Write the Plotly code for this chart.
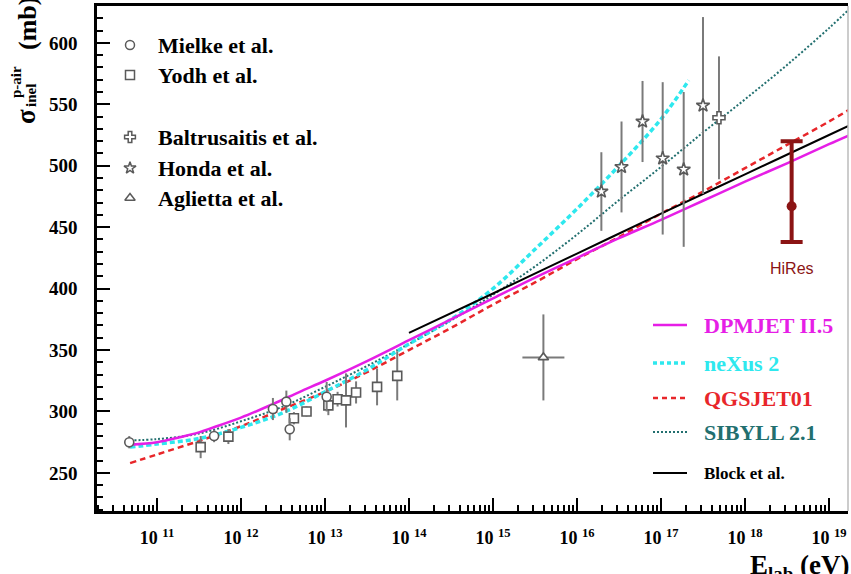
import plotly.graph_objects as go

# ---------------- data (log10 E_lab [eV], sigma_inel p-air [mb]) ----------------
mielke_logE = [10.67, 11.68, 12.38, 12.54, 12.58, 13.02]
mielke_sigma = [275, 280, 302, 308, 285.5, 312]
mielke_err = [5, 5, 9, 9, 9, 12]

yodh_logE = [11.52, 11.85, 12.63, 12.78, 13.04, 13.15, 13.25, 13.37, 13.62, 13.86]
yodh_sigma = [271, 279.5, 294.5, 300, 305, 310, 309, 315.5, 320, 329]
yodh_err = [9, 6, 5, 4, 8, 6, 22, 9, 15, 20]

balt_logE = [17.69]
balt_sigma = [539]
balt_err = [50]

honda_logE = [16.29, 16.53, 16.78, 17.02, 17.27, 17.50]
honda_sigma = [479, 499, 536, 506, 497, 549]
honda_err = [32, 37, 33, 62, 63, 72]

aglietta_logE = [15.6]
aglietta_sigma = [344]
aglietta_err = [35]
aglietta_logE_err = [0.25]

hires_logE = [18.555]
hires_sigma = [467]
hires_err_plus = [53]
hires_err_minus = [29]

dpmjet_logE = [10.68, 11.0, 11.27, 11.5, 11.67, 12.0, 12.38, 12.7, 13.0, 13.5, 14.0, 14.5,
               15.0, 15.5, 16.0, 16.5, 17.0, 17.5, 18.0, 18.5, 19.0, 19.25]
dpmjet_sigma = [273, 275, 279, 283, 287, 295, 306, 316, 325, 341, 358, 375,
                392, 409, 425, 441, 456, 471.5, 487, 502, 517.5, 525]

nexus_logE = [10.68, 11.0, 11.5, 12.0, 12.5, 13.0, 13.5, 14.0, 14.5, 15.0, 15.5, 16.0, 16.5, 17.0, 17.33]
nexus_sigma = [271, 273.5, 278, 287, 299, 316, 334, 355, 375, 400, 432, 465, 500, 538, 569.5]

qgsjet_logE = [10.68, 11.0, 11.5, 12.0, 12.5, 13.0, 13.5, 14.0, 14.5, 15.0, 15.5, 16.0,
               16.5, 17.0, 17.5, 18.0, 18.5, 19.0, 19.25]
qgsjet_sigma = [258, 265, 276, 288, 302, 316, 332, 350, 368, 387, 405, 424,
                442, 461, 479, 498, 517, 536, 546]

sibyll_logE = [10.68, 11.0, 11.5, 12.0, 12.5, 13.0, 13.5, 14.0, 14.5, 15.0, 15.5, 16.0,
               16.5, 17.0, 17.5, 18.0, 18.5, 19.0, 19.25]
sibyll_sigma = [276.5, 277.5, 282, 292, 304, 320, 337, 355, 374, 395, 418, 444,
                472, 499, 527, 554, 582, 612, 628]

block_logE = [14.0, 15.0, 16.0, 17.0, 18.0, 19.0, 19.25]
block_sigma = [364, 396, 428.5, 461, 493, 525, 533]

x_decades = [11, 12, 13, 14, 15, 16, 17, 18, 19]
x_ticktext = ["10 <sup>%d</sup>" % d for d in x_decades]
y_tickvals = [250, 300, 350, 400, 450, 500, 550, 600]

# ---------------- styling ----------------
W, H = 851, 574
L, R, T, B = 97, 3, 6, 63
SERIF = "Liberation Serif"
GRAY = "#5a5a5a"
EGRAY = "#7a7a7a"
MAG = "#e61ee6"
CYAN = "#2ee8ee"
RED = "#e8262a"
TEAL = "#226f6f"
DRED = "#8b1414"


def lin(v):
    return [10.0 ** a for a in v]


def px2x(px):
    return (px - L) / (W - L - R)


def py2y(py):
    return (H - B - py) / (H - B - T)


fig = go.Figure()

# model curves
fig.add_trace(go.Scatter(x=lin(sibyll_logE), y=sibyll_sigma, mode="lines",
                         line=dict(color=TEAL, width=2, dash="2px,2px", shape="spline"),
                         showlegend=False))
fig.add_trace(go.Scatter(x=lin(qgsjet_logE), y=qgsjet_sigma, mode="lines",
                         line=dict(color=RED, width=2.5, dash="6px,4px", shape="spline"),
                         showlegend=False))
fig.add_trace(go.Scatter(x=lin(nexus_logE), y=nexus_sigma, mode="lines",
                         line=dict(color=CYAN, width=3.5, dash="5px,3px", shape="spline"),
                         showlegend=False))
fig.add_trace(go.Scatter(x=lin(dpmjet_logE), y=dpmjet_sigma, mode="lines",
                         line=dict(color=MAG, width=2.5, shape="spline"),
                         showlegend=False))
fig.add_trace(go.Scatter(x=lin(block_logE), y=block_sigma, mode="lines",
                         line=dict(color="black", width=2, shape="spline"),
                         showlegend=False))


def pts(logE, sig, err, symbol, size=9, xerr=None):
    kw = {}
    if xerr is not None:
        kw["error_x"] = dict(type="data", symmetric=False,
                             array=[10.0 ** (a + e) - 10.0 ** a for a, e in zip(logE, xerr)],
                             arrayminus=[10.0 ** a - 10.0 ** (a - e) for a, e in zip(logE, xerr)],
                             color=EGRAY, thickness=2, width=0)
    fig.add_trace(go.Scatter(
        x=lin(logE), y=sig, mode="markers",
        marker=dict(symbol=symbol, size=size, color="white",
                    line=dict(color=GRAY, width=1.6)),
        error_y=dict(type="data", array=err, color=EGRAY, thickness=2, width=0),
        showlegend=False, **kw))


pts(yodh_logE, yodh_sigma, yodh_err, "square")
pts(mielke_logE, mielke_sigma, mielke_err, "circle")
pts(balt_logE, balt_sigma, balt_err, "cross", 10)
pts(honda_logE, honda_sigma, honda_err, "star", 10)
pts(aglietta_logE, aglietta_sigma, aglietta_err, "triangle-up", 9, aglietta_logE_err)

fig.add_trace(go.Scatter(
    x=lin(hires_logE), y=hires_sigma, mode="markers",
    marker=dict(symbol="circle", size=10, color=DRED),
    error_y=dict(type="data", symmetric=False, array=hires_err_plus,
                 arrayminus=hires_err_minus, color=DRED, thickness=4, width=11),
    showlegend=False))

# ---------------- legends drawn on a pixel overlay axis ----------------
leg_left_rows = [("Mielke et al.", "circle", 45),
                 ("Yodh et al.", "square", 75),
                 ("Baltrusaitis et al.", "cross", 137),
                 ("Honda et al.", "star", 168),
                 ("Aglietta et al.", "triangle-up", 198)]
for name, sym, yy in leg_left_rows:
    fig.add_trace(go.Scatter(x=[130], y=[yy], xaxis="x2", yaxis="y2", mode="markers",
                             marker=dict(symbol=sym, size=9, color="white",
                                         line=dict(color=GRAY, width=1.5)),
                             showlegend=False, cliponaxis=False))
    fig.add_annotation(x=156, y=yy, xref="x2", yref="y2", text=name, showarrow=False,
                       xanchor="left", yanchor="middle",
                       font=dict(family=SERIF, size=22, color="black", weight="bold"))

leg_right_rows = [("DPMJET II.5", MAG, dict(color=MAG, width=2.5), 325, 22),
                  ("neXus 2", CYAN, dict(color=CYAN, width=3.5, dash="4px,3px"), 363, 22),
                  ("QGSJET01", RED, dict(color=RED, width=2.5, dash="5px,4px"), 398, 22),
                  ("SIBYLL 2.1", TEAL, dict(color=TEAL, width=2, dash="2px,2px"), 432, 22),
                  ("Block et al.", "black", dict(color="black", width=2), 473, 17)]
for name, col, ln, yy, fs in leg_right_rows:
    fig.add_trace(go.Scatter(x=[653, 687], y=[yy, yy], xaxis="x2", yaxis="y2", mode="lines",
                             line=ln, showlegend=False, cliponaxis=False))
    fig.add_annotation(x=702, y=yy, xref="x2", yref="y2", text=name, showarrow=False,
                       xanchor="left", yanchor="middle",
                       font=dict(family=SERIF, size=fs, color=col, weight="bold"))

fig.add_annotation(x=792, y=268, xref="x2", yref="y2", text="HiRes", showarrow=False,
                   xanchor="center", yanchor="middle",
                   font=dict(family="Liberation Sans", size=16, color=DRED))

# ---------------- axis titles ----------------
fig.add_annotation(x=px2x(851), y=py2y(548), xref="paper", yref="paper",
                   text="E<sub>lab</sub> (eV)", showarrow=False, xanchor="right", yanchor="top",
                   font=dict(family=SERIF, size=27, color="black", weight="bold"))
# y title pieces (rotated)
fig.add_annotation(x=px2x(26), y=py2y(117), xref="paper", yref="paper", text="σ",
                   textangle=-90, showarrow=False, xanchor="center", yanchor="middle",
                   font=dict(family=SERIF, size=27, color="black", weight="bold"))
fig.add_annotation(x=px2x(16), y=py2y(82), xref="paper", yref="paper", text="p-air",
                   textangle=-90, showarrow=False, xanchor="center", yanchor="middle",
                   font=dict(family=SERIF, size=15, color="black", weight="bold"))
fig.add_annotation(x=px2x(31), y=py2y(96), xref="paper", yref="paper", text="inel",
                   textangle=-90, showarrow=False, xanchor="center", yanchor="middle",
                   font=dict(family=SERIF, size=15, color="black", weight="bold"))
fig.add_annotation(x=px2x(27), y=py2y(24), xref="paper", yref="paper", text="(mb)",
                   textangle=-90, showarrow=False, xanchor="center", yanchor="middle",
                   font=dict(family=SERIF, size=26, color="black", weight="bold"))

# right frame (faint)
fig.add_shape(type="line", xref="paper", yref="paper", x0=1, x1=1, y0=0, y1=1,
              line=dict(color="#bbbbbb", width=1.5))

minor_x = [k * 10.0 ** d for d in range(10, 20) for k in range(2, 10)]

fig.update_layout(
    width=W, height=H,
    margin=dict(l=L, r=R, t=T, b=B, autoexpand=False),
    paper_bgcolor="white", plot_bgcolor="white",
    showlegend=False,
    xaxis=dict(type="log", range=[10.286, 19.226], showgrid=False, zeroline=False,
               automargin=False,
               showline=True, linecolor="black", linewidth=2.5, mirror=True,
               ticks="inside", ticklen=13, tickwidth=2, tickcolor="black",
               tickmode="array", tickvals=[10.0 ** d for d in x_decades], ticktext=x_ticktext,
               ticklabelstandoff=9,
               tickfont=dict(family=SERIF, size=18, color="black", weight="bold"),
               minor=dict(tickmode="array", tickvals=minor_x, ticks="inside", ticklen=6,
                          tickwidth=1.5, tickcolor="black", showgrid=False)),
    yaxis=dict(range=[219, 630], showgrid=False, zeroline=False,
               automargin=False,
               showline=True, linecolor="black", linewidth=2.5,
               ticks="inside", ticklen=13, tickwidth=2, tickcolor="black",
               tickmode="array", tickvals=y_tickvals,
               ticklabelstandoff=13,
               tickfont=dict(family=SERIF, size=19, color="black", weight="bold"),
               minor=dict(dtick=10, ticks="inside", ticklen=6, tickwidth=1.5,
                          tickcolor="black", showgrid=False)),
    xaxis2=dict(overlaying="x", range=[L, W - R], visible=False, fixedrange=True),
    yaxis2=dict(overlaying="y", range=[H - B, T], visible=False, fixedrange=True),
)

fig.write_html("out.html", config={"displayModeBar": False},
               post_script="document.body.style.margin='0';document.body.style.overflow='hidden';")
